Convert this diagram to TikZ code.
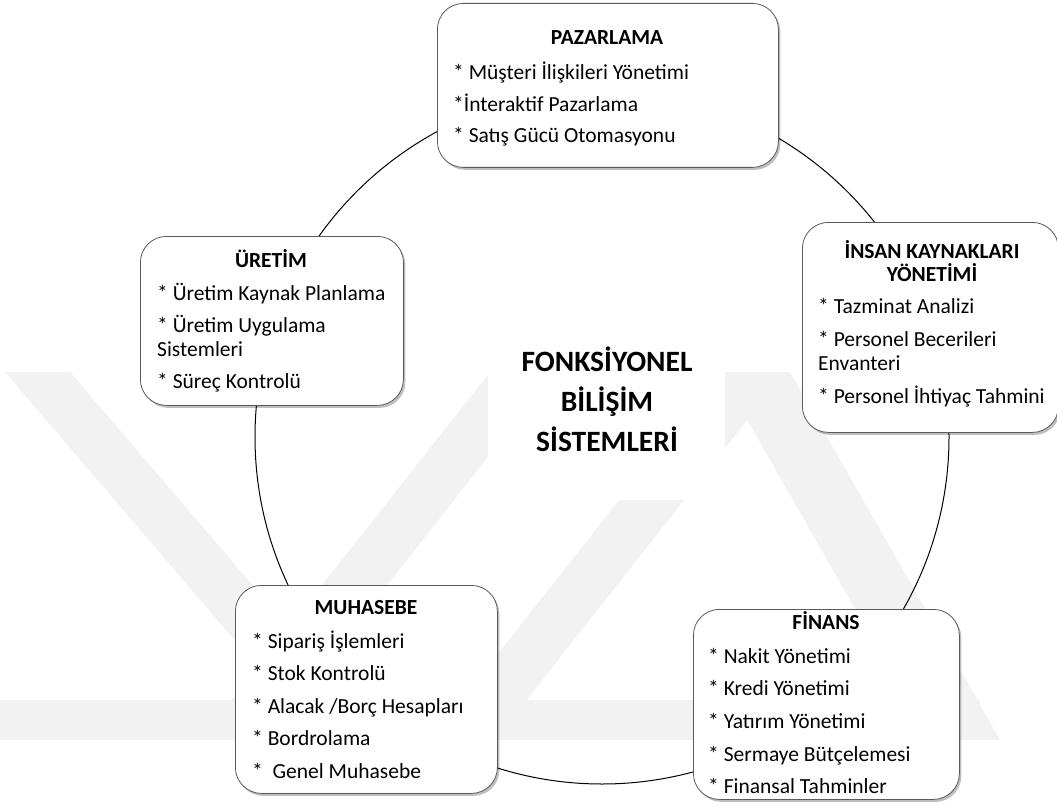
\documentclass[tikz,border=0pt]{standalone}
\usepackage{fontspec}
\setmainfont{Carlito}
\usetikzlibrary{shadows}
\begin{document}
\begin{tikzpicture}[x=1pt,y=-1pt,
  fbox/.style={draw=black!65, line width=0.8pt, fill=white, rounded corners=26pt,
    drop shadow={shadow xshift=2pt, shadow yshift=-2.5pt, fill=black, opacity=0.25},
    inner sep=0pt, anchor=north west},
  ttl/.style={font=\fontsize{21.5}{25}\selectfont\bfseries, anchor=base, inner sep=0pt},
  itm/.style={font=\fontsize{21.5}{25}\selectfont, anchor=base west, inner sep=0pt},
  ctr/.style={font=\fontsize{29.5}{35}\selectfont\bfseries, anchor=base, inner sep=0pt},
  wm/.style={fill=black!5, draw=none}]
\useasboundingbox (0,0) rectangle (1057,805);
\fill[white] (0,0) rectangle (1057,805);
% faint watermark
\fill[wm] (5,372) -- (70,372) -- (385,740) -- (320,740) -- cycle;
\fill[wm] (200,740) -- (265,740) -- (555,372) -- (490,372) -- cycle;
\fill[wm] (430,740) -- (495,740) -- (785,372) -- (720,372) -- cycle;
\fill[wm] (720,372) -- (790,372) -- (1000,740) -- (930,740) -- cycle;
\fill[wm] (0,700) -- (980,700) -- (980,740) -- (0,740) -- cycle;
\fill[white] (488,290) rectangle (725,500);
% ring connecting the boxes
\node[draw=black, line width=1pt, circle, minimum size=694pt, inner sep=0pt] (ring) at (602,437) {};
% boxes
\node[fbox, minimum width=341pt, minimum height=164pt] (paz) at (437,3) {};
\node[fbox, minimum width=263pt, minimum height=169pt] (ure) at (140,236) {};
\node[fbox, minimum width=256pt, minimum height=210pt] (ik) at (802,222) {};
\node[fbox, minimum width=262pt, minimum height=208pt] (muh) at (235,585) {};
\node[fbox, minimum width=266pt, minimum height=190pt] (fin) at (693,609) {};
% PAZARLAMA
\node[ttl] (paz0) at (607,45) {PAZARLAMA};
\node[itm] (paz1) at (453,80) {* Müşteri İlişkileri Yönetimi};
\node[itm] (paz2) at (453,112) {*İnteraktif Pazarlama};
\node[itm] (paz3) at (453,143) {* Satış Gücü Otomasyonu};
% ÜRETİM
\node[ttl] (ure0) at (271,267) {ÜRETİM};
\node[itm] (ure1) at (157,300) {* Üretim Kaynak Planlama};
\node[itm] (ure2) at (157,332) {* Üretim Uygulama};
\node[itm] (ure3) at (157,356) {Sistemleri};
\node[itm] (ure4) at (157,388) {* Süreç Kontrolü};
% İNSAN KAYNAKLARI
\node[ttl] (ik0) at (932,258) {İNSAN KAYNAKLARI};
\node[ttl] (ik1) at (932,281) {YÖNETİMİ};
\node[itm] (ik2) at (818,313) {* Tazminat Analizi};
\node[itm] (ik3) at (818,346) {* Personel Becerileri};
\node[itm] (ik4) at (818,370) {Envanteri};
\node[itm] (ik5) at (818,403) {* Personel İhtiyaç Tahmini};
% MUHASEBE
\node[ttl] (muh0) at (366,614) {MUHASEBE};
\node[itm] (muh1) at (252,648) {* Sipariş İşlemleri};
\node[itm] (muh2) at (252,680) {* Stok Kontrolü};
\node[itm] (muh3) at (252,713) {* Alacak /Borç Hesapları};
\node[itm] (muh4) at (252,745) {* Bordrolama};
\node[itm] (muh5) at (252,778) {*~~Genel Muhasebe};
% FİNANS
\node[ttl] (fin0) at (826,629) {FİNANS};
\node[itm] (fin1) at (708,663) {* Nakit Yönetimi};
\node[itm] (fin2) at (708,695) {* Kredi Yönetimi};
\node[itm] (fin3) at (708,728) {* Yatırım Yönetimi};
\node[itm] (fin4) at (708,761) {* Sermaye Bütçelemesi};
\node[itm] (fin5) at (708,793) {* Finansal Tahminler};
% centre
\node[ctr] (c1) at (607,371) {FONKSİYONEL};
\node[ctr] (c2) at (607,411) {BİLİŞİM};
\node[ctr] (c3) at (607,451) {SİSTEMLERİ};
\end{tikzpicture}
\end{document}
